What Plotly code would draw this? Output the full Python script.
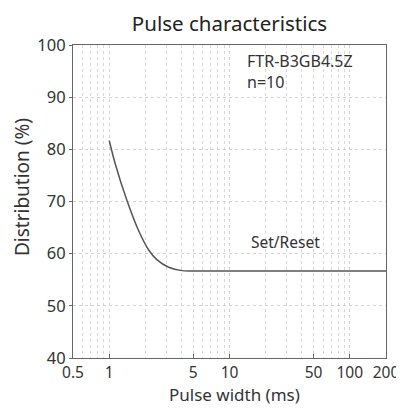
import plotly.graph_objects as go

pulse_ms = [1.0, 1.12, 1.40, 1.75, 2.13, 2.50, 3.12, 4.03, 5, 10, 50, 100, 200]
dist_pct = [81.7, 77.3, 70.3, 64.5, 60.7, 58.8, 57.4, 56.75, 56.7, 56.7, 56.7, 56.7, 56.7]

x_ticks = [0.5, 1, 5, 10, 50, 100, 200]
x_tick_text = ["0.5", "1", "5", "10", "50", "100", "200"]
x_minor = [0.6, 0.7, 0.8, 0.9, 2, 3, 4, 6, 7, 8, 9, 20, 30, 40, 60, 70, 80, 90]
y_ticks = [40, 50, 60, 70, 80, 90, 100]

FONT = "Noto Sans"
TXT = "#333333"
fig = go.Figure()
fig.add_trace(go.Scatter(x=pulse_ms, y=dist_pct, mode="lines",
                         line=dict(color="#555555", width=1.5, shape="spline", smoothing=0.8),
                         showlegend=False, hoverinfo="skip"))

fig.add_annotation(x=0.55, y=0.914, xref="paper", yref="paper", text="FTR-B3GB4.5Z<br>n=10",
                   showarrow=False, xanchor="left", yanchor="middle", align="left",
                   font=dict(family=FONT, size=16, color=TXT))
fig.add_annotation(x=0.562, y=0.371, xref="paper", yref="paper", text="Set/Reset",
                   showarrow=False, xanchor="left", yanchor="middle",
                   font=dict(family=FONT, size=15.5, color=TXT))
# axis titles
fig.add_annotation(x=-0.163, y=0.546, xref="paper", yref="paper", text="Distribution (%)",
                   showarrow=False, textangle=-90, xanchor="center", yanchor="middle",
                   font=dict(family=FONT, size=19, color=TXT))
fig.add_annotation(x=0.517, y=-0.118, xref="paper", yref="paper", text="Pulse width (ms)",
                   showarrow=False, xanchor="center", yanchor="middle",
                   font=dict(family=FONT, size=17, color=TXT))

fig.update_layout(
    width=404, height=403,
    margin=dict(l=65, r=26, t=37, b=53),
    paper_bgcolor="white", plot_bgcolor="white",
    font=dict(family=FONT, size=16, color=TXT),
    title=dict(text="Pulse characteristics", x=0.5, xref="paper", xanchor="center", y=0.96, yanchor="middle",
               font=dict(family=FONT, size=20.5, color="#222222"), automargin=False),
    xaxis=dict(type="log", range=[-0.30103, 2.30103], tickvals=x_ticks, ticktext=x_tick_text,
               showgrid=True, gridcolor="#d2d2d2", griddash="dot", gridwidth=1,
               minor=dict(tickvals=x_minor, showgrid=True, gridcolor="#d8d8d8", griddash="dot", gridwidth=1,
                          ticks=""),
               showline=True, linecolor="#666666", linewidth=1.2, mirror=True,
               ticks="inside", ticklen=4, tickcolor="#666666", ticklabeloverflow="allow",
               tickfont=dict(size=15.5), zeroline=False, automargin=False),
    yaxis=dict(range=[40, 100], tickvals=y_ticks,
               showgrid=True, gridcolor="#d2d2d2", griddash="dot", gridwidth=1,
               showline=True, linecolor="#666666", linewidth=1.2, mirror=True,
               ticks="outside", ticklen=3, tickcolor="#666666",
               tickfont=dict(size=16.5), zeroline=False, automargin=False),
)
fig.write_html("out.html")
